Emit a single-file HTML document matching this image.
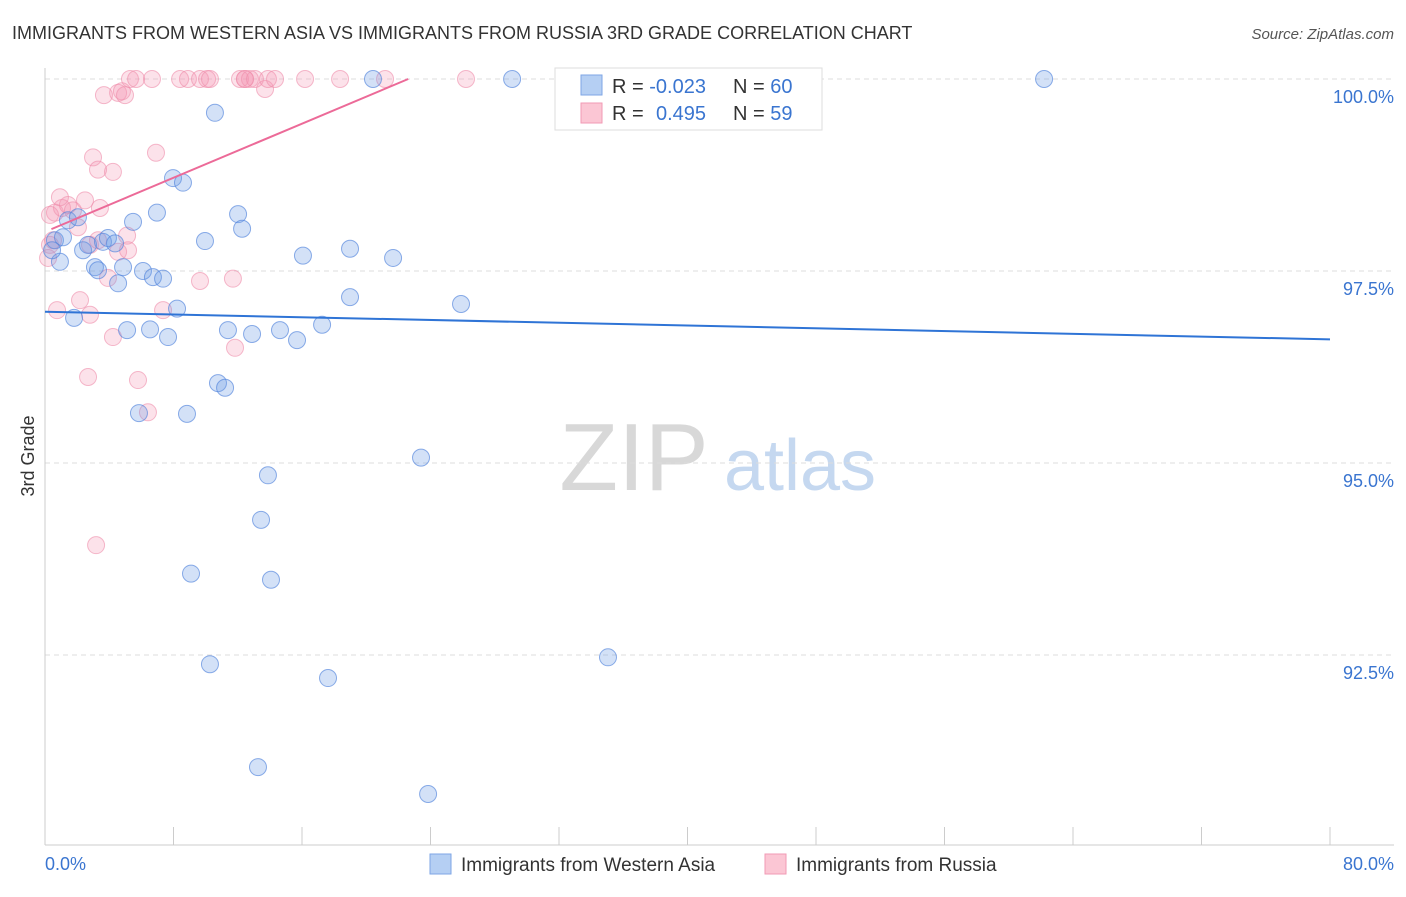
<!DOCTYPE html>
<html><head><meta charset="utf-8"><style>
body{margin:0;background:#fff;font-family:"Liberation Sans",sans-serif;}
svg text{font-family:"Liberation Sans",sans-serif;}
</style></head><body>
<svg id="chart" width="1406" height="892" xmlns="http://www.w3.org/2000/svg">
<text x="12" y="39" font-size="18" fill="#333">IMMIGRANTS FROM WESTERN ASIA VS IMMIGRANTS FROM RUSSIA 3RD GRADE CORRELATION CHART</text>
<text x="1394" y="39" font-size="15" fill="#555" font-style="italic" text-anchor="end">Source: ZipAtlas.com</text>
<g>
<text x="634" y="490" font-size="96" fill="#d8d8d8" font-family="Liberation Serif,serif" text-anchor="middle">ZIP</text>
<text x="800" y="490" font-size="72" fill="#c5d8f0" text-anchor="middle">atlas</text>
</g>
<g id="grid"></g>
<g id="axes"></g>
<g id="points"></g>
<g id="trends"></g>
<text transform="translate(34,456) rotate(-90)" font-size="18" fill="#333" text-anchor="middle">3rd Grade</text>
<text x="45" y="870" font-size="18" fill="#3a75d0">0.0%</text>
<text x="1394" y="870" font-size="18" fill="#3a75d0" text-anchor="end">80.0%</text>
<g>
<rect x="555" y="68" width="267" height="62" fill="#fff" stroke="#ddd"/>
<rect x="581" y="75" width="21" height="20" fill="#b5cff3" stroke="#7ea6e6"/>
<rect x="581" y="103" width="21" height="20" fill="#fbc6d4" stroke="#f19ab4"/>
<text x="612" y="93" font-size="20" fill="#333">R = <tspan fill="#3a75d0">-0.023</tspan></text>
<text x="733" y="93" font-size="20" fill="#333">N = <tspan fill="#3a75d0">60</tspan></text>
<text x="612" y="120" font-size="20" fill="#333">R = <tspan fill="#3a75d0" x="656">0.495</tspan></text>
<text x="733" y="120" font-size="20" fill="#333">N = <tspan fill="#3a75d0">59</tspan></text>
</g>
<g>
<rect x="430" y="854" width="21" height="20" fill="#b5cff3" stroke="#7ea6e6"/>
<text x="461" y="871" font-size="19" fill="#333">Immigrants from Western Asia</text>
<rect x="765" y="854" width="21" height="20" fill="#fbc6d4" stroke="#f19ab4"/>
<text x="796" y="871" font-size="19" fill="#333">Immigrants from Russia</text>
</g>
</svg>
<script>
const yTicks=[100,97.5,95,92.5];
const yTickLabels=["100.0%","97.5%","95.0%","92.5%"];
const blueX=[0.62,0.93,0.44,1.43,2.05,1.12,2.37,2.68,3.61,3.92,4.36,3.11,3.30,4.55,4.86,6.10,6.72,7.35,5.48,6.97,7.97,8.59,9.96,10.58,12.02,12.27,16.06,18.99,21.67,18.99,25.90,8.22,1.81,5.11,6.54,7.66,11.39,12.89,14.63,15.69,17.25,10.77,11.21,5.85,8.84,23.41,13.88,13.45,9.09,14.07,10.27,35.05,17.62,13.26,23.85,20.42,29.08,42.34,62.20,34.56];
const blueY=[97.90,97.62,97.77,98.16,98.20,97.94,97.77,97.84,97.88,97.93,97.86,97.55,97.51,97.34,97.55,97.50,97.42,97.40,98.14,98.26,98.71,98.65,97.89,99.56,98.24,98.05,97.70,97.79,97.67,97.16,97.07,97.01,96.89,96.73,96.74,96.64,96.73,96.68,96.73,96.60,96.80,96.04,95.98,95.65,95.64,95.07,94.84,94.26,93.56,93.48,92.38,92.47,92.20,91.04,90.69,100,100,100,100,100];
const pinkX=[0.31,0.62,1.06,1.43,0.93,1.74,2.49,2.99,3.42,4.23,3.30,2.05,0.50,2.80,3.92,4.55,5.17,5.11,3.30,2.18,0.75,2.80,4.23,2.68,5.79,6.41,3.18,7.35,9.65,11.70,11.83,6.91,3.67,4.55,4.79,5.29,5.67,6.66,8.41,8.90,9.65,10.09,10.27,12.14,12.45,12.76,13.07,13.70,13.88,14.32,16.19,18.37,21.17,26.21,34.56,4.98,12.45,0.19,0.31];
const pinkY=[97.84,98.26,98.32,98.36,98.46,98.29,98.42,98.98,98.32,98.79,98.82,98.07,97.90,97.84,97.41,97.75,97.77,97.96,97.90,97.12,96.99,96.93,96.64,96.12,96.08,95.66,93.93,96.99,97.37,97.40,96.50,99.04,99.79,99.82,99.84,100,100,100,100,100,100,100,100,100,100,100,100,99.87,100,100,100,100,100,100,100,99.79,100,97.67,98.23];
const blueTrend=[96.97,96.61]; // y at x=0 and x=80
const pinkTrend=[98.01,0.088]; // intercept, slope
const NS="http://www.w3.org/2000/svg";
const X0=45,X1=1330,Y100=79,PX25=192;
const sx=v=>X0+(v/80)*(X1-X0);
const sy=v=>Y100+(100-v)/2.5*PX25;
function mk(tag,attrs,parent){const e=document.createElementNS(NS,tag);for(const k in attrs)e.setAttribute(k,attrs[k]);parent.appendChild(e);return e;}
const grid=document.getElementById('grid'),axes=document.getElementById('axes'),pts=document.getElementById('points'),tr=document.getElementById('trends');
yTicks.forEach((t,i)=>{
 const l=mk('line',{x1:45,x2:1394,y1:sy(t),y2:sy(t),stroke:'#ddd','stroke-dasharray':'5,4'},grid);
 
 
 const tx=mk('text',{x:1394,y:sy(t)+24,'font-size':18,fill:'#3a75d0','text-anchor':'end'},grid);
 tx.textContent=yTickLabels[i];
 
 
});
const ya=mk('line',{x1:45,x2:45,y1:68,y2:845,stroke:'#ccc'},axes);


const xa=mk('line',{x1:45,x2:1394,y1:845,y2:845,stroke:'#ccc'},axes);


for(let i=0;i<=10;i++){
 const t=mk('line',{x1:sx(i*8),x2:sx(i*8),y1:827,y2:845,stroke:'#ccc'},axes);
 
 
}
pinkX.forEach((x,i)=>{
 const c=mk('circle',{cx:sx(x),cy:sy(pinkY[i]),r:8.5,fill:'rgba(244,150,178,0.28)',stroke:'rgba(238,140,170,0.6)','stroke-width':1},pts);
 
 
});
blueX.forEach((x,i)=>{
 const c=mk('circle',{cx:sx(x),cy:sy(blueY[i]),r:8.5,fill:'rgba(110,155,230,0.3)',stroke:'rgba(80,130,220,0.65)','stroke-width':1},pts);
 
 
});
const bl=mk('line',{x1:sx(0),y1:sy(blueTrend[0]),x2:sx(80),y2:sy(blueTrend[1]),stroke:'#2f74d6','stroke-width':2},tr);


const pEnd=(100-pinkTrend[0])/pinkTrend[1];
const pl=mk('line',{x1:sx(0.4),y1:sy(pinkTrend[0]+pinkTrend[1]*0.4),x2:sx(pEnd),y2:sy(100),stroke:'#ec6a98','stroke-width':2},tr);


</script>
</body></html>
